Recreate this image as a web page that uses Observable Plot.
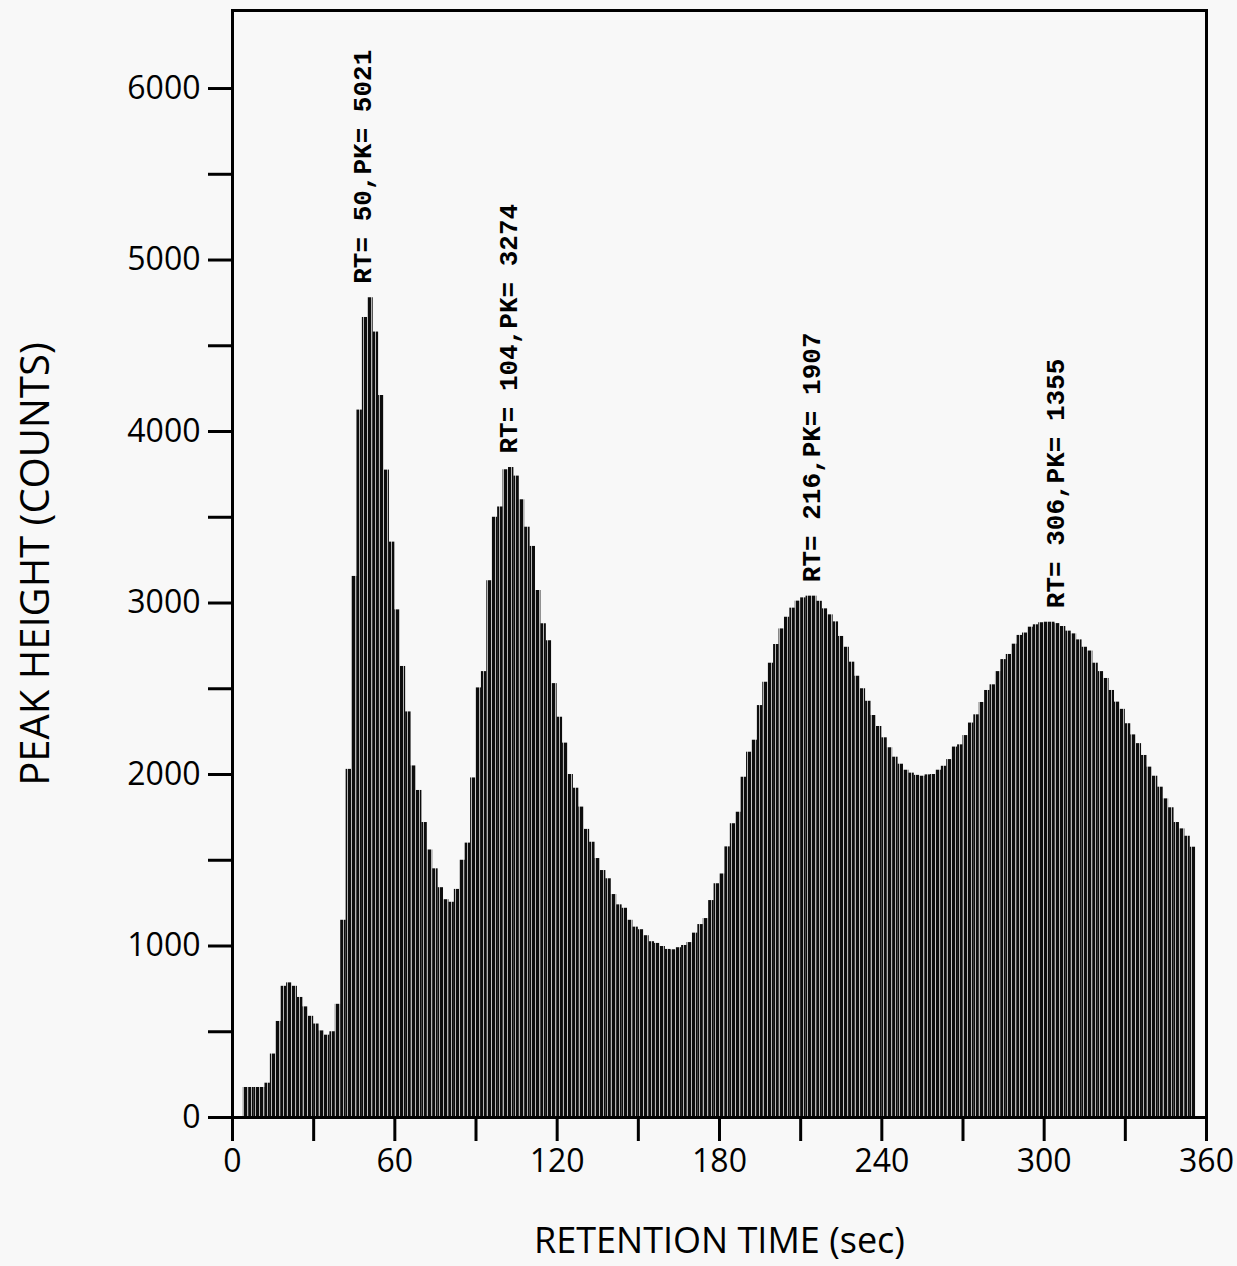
<!DOCTYPE html>
<html>
<head>
<meta charset="utf-8">
<script src="https://cdn.jsdelivr.net/npm/d3@7"></script>
<script src="https://cdn.jsdelivr.net/npm/@observablehq/plot@0.6"></script>
<style>
  html, body { margin: 0; padding: 0; background: #f8f8f8; }
  #chart svg { display: block; }
</style>
</head>
<body>
<div id="chart"></div>
<script>
// Detector counts per 2-second retention-time bin, first bin starting at 4 s
const binStart = 4;
const binWidth = 2;
const counts = [
  175, 175, 175, 175, 200, 370, 560, 765, 785, 765,
  700, 645, 590, 545, 505, 480, 500, 660, 1150, 2030,
  3155, 4125, 4665, 4780, 4580, 4210, 3775, 3355, 2960, 2630,
  2365, 2050, 1907, 1720, 1560, 1450, 1340, 1270, 1255, 1330,
  1500, 1600, 1980, 2505, 2600, 3130, 3500, 3560, 3777, 3790,
  3740, 3602, 3442, 3330, 3073, 2879, 2780, 2530, 2334, 2183,
  2000, 1920, 1810, 1680, 1605, 1510, 1440, 1392, 1300, 1240,
  1220, 1150, 1110, 1095, 1060, 1025, 1015, 997, 980, 978,
  990, 1003, 1020, 1075, 1125, 1160, 1265, 1363, 1420, 1578,
  1713, 1780, 1984, 2130, 2200, 2402, 2538, 2649, 2758, 2849,
  2917, 2970, 3011, 3030, 3040, 3040, 3010, 2966, 2931, 2890,
  2805, 2742, 2655, 2573, 2500, 2427, 2344, 2280, 2214, 2156,
  2101, 2060, 2025, 2008, 1995, 1990, 1998, 2000, 2025, 2048,
  2087, 2160, 2173, 2227, 2300, 2348, 2420, 2490, 2523, 2600,
  2670, 2700, 2760, 2811, 2825, 2859, 2873, 2885, 2888, 2888,
  2880, 2863, 2836, 2820, 2785, 2742, 2720, 2649, 2600, 2560,
  2490, 2422, 2380, 2296, 2231, 2180, 2111, 2043, 1990, 1926,
  1858, 1806, 1720, 1683, 1640, 1576
];

// Peak annotations: retention time (s) and reported peak value
const peakRT = [50, 104, 216, 306];
const peakPK = [5021, 3274, 1907, 1355];

// Axis ticks
const xTicks = [0, 30, 60, 90, 120, 150, 180, 210, 240, 270, 300, 330, 360];
const xTickLabels = [0, 60, 120, 180, 240, 300, 360];
const yTicks = [0, 500, 1000, 1500, 2000, 2500, 3000, 3500, 4000, 4500, 5000, 5500, 6000];
const yTickLabels = [0, 1000, 2000, 3000, 4000, 5000, 6000];

const bins = counts.map((count, i) => ({
  t0: binStart + i * binWidth,
  t1: binStart + (i + 1) * binWidth,
  count
}));

// Each annotation sits just above the tallest bin near its retention time
const peaks = peakRT.map((rt, i) => ({
  rt,
  pk: peakPK[i],
  top: d3.max(bins.filter(b => Math.abs((b.t0 + b.t1) / 2 - rt) <= 4), b => b.count)
}));

const svg = Plot.plot({
  width: 1237,
  height: 1266,
  marginTop: 10,
  marginRight: 31,
  marginBottom: 149,
  marginLeft: 232,
  style: "background: transparent; font-family: 'Open Sans', sans-serif; font-size: 32px; color: #000;",
  x: { domain: [0, 360] },
  y: { domain: [0, 6455] },
  marks: [
    Plot.rectY(bins, { x1: "t0", x2: "t1", y: "count", fill: "url(#hatch)" }),
    Plot.frame({ stroke: "#000", strokeWidth: 3 }),
    Plot.axisX({
      ticks: xTicks,
      tickSize: 24,
      tickPadding: 8,
      strokeWidth: 3,
      tickFormat: t => (xTickLabels.includes(t) ? String(t) : ""),
      fontSize: 32,
      label: null
    }),
    Plot.axisX({
      ticks: [],
      label: "RETENTION TIME (sec)",
      labelAnchor: "center",
      labelArrow: "none",
      labelOffset: 135,
      fontSize: 36
    }),
    Plot.axisY({
      ticks: yTicks,
      tickSize: 24,
      tickPadding: 8,
      strokeWidth: 3,
      tickFormat: t => (yTickLabels.includes(t) ? String(t) : ""),
      fontSize: 32,
      label: null
    }),
    Plot.axisY({
      ticks: [],
      label: "PEAK HEIGHT (COUNTS)",
      labelAnchor: "center",
      labelArrow: "none",
      labelOffset: 212,
      fontSize: 40
    }),
    Plot.text(peaks, {
      x: "rt",
      y: "top",
      text: d => `RT= ${d.rt},PK= ${d.pk}`,
      rotate: -90,
      textAnchor: "start",
      lineAnchor: "middle",
      dx: -5,
      dy: -14,
      fontFamily: "'Liberation Mono', monospace",
      fontWeight: "bold",
      fontSize: 26,
      fill: "#000"
    })
  ]
});

// Vertical-stripe fill used by the histogram bars
const defs = d3.select(svg).insert("defs", ":first-child");
const pattern = defs.append("pattern")
  .attr("id", "hatch")
  .attr("patternUnits", "userSpaceOnUse")
  .attr("width", 4)
  .attr("height", 10);
pattern.append("rect")
  .attr("x", 0).attr("y", 0)
  .attr("width", 4).attr("height", 10)
  .attr("fill", "#b4b4b4");
pattern.append("rect")
  .attr("x", 0).attr("y", 0)
  .attr("width", 3).attr("height", 10)
  .attr("fill", "#0d0d0d");

document.getElementById("chart").appendChild(svg);
</script>
</body>
</html>
